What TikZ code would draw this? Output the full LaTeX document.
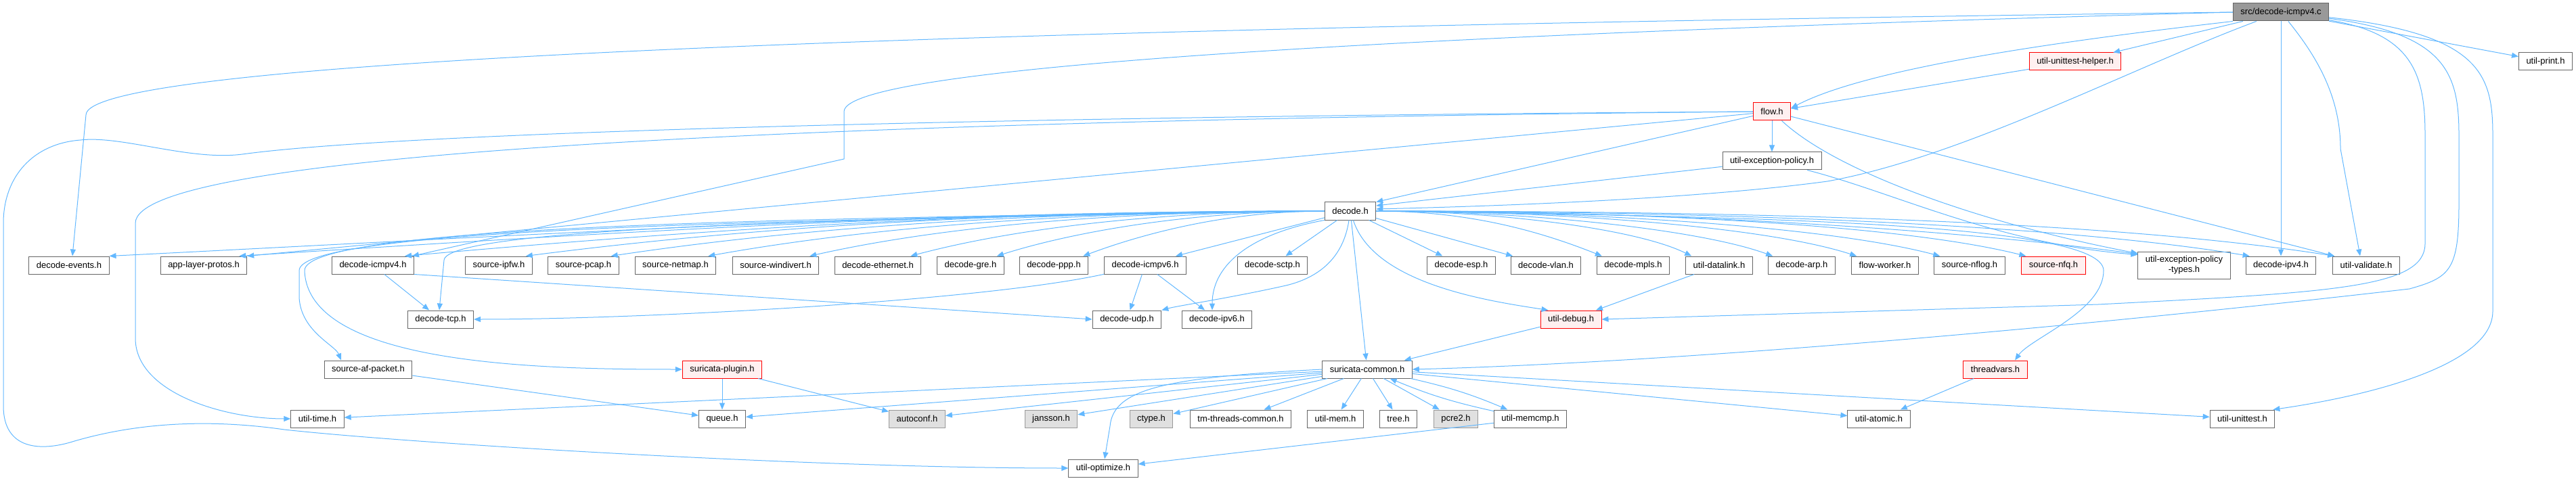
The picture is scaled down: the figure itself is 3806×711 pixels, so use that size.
\documentclass[tikz,border=0pt]{standalone}
\usepackage{fontspec}
\setmainfont{Liberation Sans}
\usetikzlibrary{arrows.meta}
\definecolor{edgeblue}{HTML}{63B8FF}
\definecolor{boxline}{HTML}{666666}
\definecolor{redfill}{HTML}{FFF0F0}
\definecolor{greyfill}{HTML}{E0E0E0}
\definecolor{greyline}{HTML}{999999}
\definecolor{srcfill}{HTML}{999999}

\begin{document}
\begin{tikzpicture}[x=1pt,y=1pt,
  hdr/.style={draw=boxline, fill=white, line width=1pt, rectangle, minimum height=26pt,
    inner xsep=11pt, inner ysep=2pt, font=\fontsize{13}{15}\selectfont},
  hdrred/.style={hdr, draw=red, fill=redfill},
  hdrgrey/.style={hdr, draw=greyline, fill=greyfill},
  hdrsrc/.style={hdr, fill=srcfill},
  incedge/.style={draw=edgeblue, line width=1pt, -{Triangle[length=10pt,width=8pt]}}]

\useasboundingbox (0,0) rectangle (3806,-711);

% The source file and the headers near the top
\node[hdrsrc] (src) at (3370,-18) {src/decode-icmpv4.c};
\node[hdrred] (uthelper) at (3066,-91) {util-unittest-helper.h};
\node[hdr] (uprint) at (3761,-91) {util-print.h};
\node[hdrred] (flow) at (2618,-165) {flow.h};
\node[hdr] (uexpol) at (2618,-238) {util-exception-policy.h};
\node[hdr] (decode) at (1995,-312) {decode.h};

% Headers included by decode.h
\node[hdr] (events) at (102,-392) {decode-events.h};
\node[hdr] (alproto) at (301,-392) {app-layer-protos.h};
\node[hdr] (icmpv4) at (551,-392) {decode-icmpv4.h};
\node[hdr] (ipfw) at (737,-392) {source-ipfw.h};
\node[hdr] (pcap) at (862,-392) {source-pcap.h};
\node[hdr] (netmap) at (998,-392) {source-netmap.h};
\node[hdr] (windivert) at (1146,-392) {source-windivert.h};
\node[hdr] (ethernet) at (1297,-392) {decode-ethernet.h};
\node[hdr] (gre) at (1434,-392) {decode-gre.h};
\node[hdr] (ppp) at (1557,-392) {decode-ppp.h};
\node[hdr] (icmpv6) at (1692,-392) {decode-icmpv6.h};
\node[hdr] (sctp) at (1880,-392) {decode-sctp.h};
\node[hdr] (esp) at (2159,-392) {decode-esp.h};
\node[hdr] (vlan) at (2284,-392) {decode-vlan.h};
\node[hdr] (mpls) at (2413,-392) {decode-mpls.h};
\node[hdr] (datalink) at (2540,-392) {util-datalink.h};
\node[hdr] (arp) at (2662,-392) {decode-arp.h};
\node[hdr] (flowworker) at (2785,-392) {flow-worker.h};
\node[hdr] (nflog) at (2910,-392) {source-nflog.h};
\node[hdrred] (nfq) at (3034,-392) {source-nfq.h};
\node[hdr, minimum height=40pt, align=center] (extypes) at (3227,-392) {util-exception-policy\\-types.h};
\node[hdr] (ipv4) at (3370,-392) {decode-ipv4.h};
\node[hdr] (validate) at (3496,-392) {util-validate.h};

% Lower rows
\node[hdr] (tcp) at (651,-472) {decode-tcp.h};
\node[hdr] (udp) at (1665,-472) {decode-udp.h};
\node[hdr] (ipv6) at (1798,-472) {decode-ipv6.h};
\node[hdrred] (debug) at (2321,-472) {util-debug.h};
\node[hdr] (afpacket) at (544,-546) {source-af-packet.h};
\node[hdrred] (plugin) at (1067,-546) {suricata-plugin.h};
\node[hdr] (common) at (2020,-546) {suricata-common.h};
\node[hdrred] (threadvars) at (2948,-546) {threadvars.h};
\node[hdr] (utime) at (469,-619) {util-time.h};
\node[hdr] (queue) at (1067,-619) {queue.h};
\node[hdrgrey] (autoconf) at (1355,-619) {autoconf.h};
\node[hdrgrey] (jansson) at (1553,-619) {jansson.h};
\node[hdrgrey] (ctype) at (1701,-619) {ctype.h};
\node[hdr] (tmthreads) at (1833,-619) {tm-threads-common.h};
\node[hdr] (umem) at (1973,-619) {util-mem.h};
\node[hdr] (tree) at (2066,-619) {tree.h};
\node[hdrgrey] (pcre) at (2151,-619) {pcre2.h};
\node[hdr] (memcmp) at (2261,-619) {util-memcmp.h};
\node[hdr] (atomic) at (2776,-619) {util-atomic.h};
\node[hdr] (unittest) at (3313,-619) {util-unittest.h};
\node[hdr] (optimize) at (1630,-692) {util-optimize.h};

% Includes of the source file
\draw[incedge] (src.west) .. controls (1200,-45) and (127,-95) .. (127,-170) -- ([xshift=5pt]events.north);
\draw[incedge] (src.west) .. controls (2300,-45) and (1247,-90) .. (1247,-165) -- (1247,-235) -- ([xshift=-3pt]icmpv4.north east);
\draw[incedge] (src) -- (uthelper);
\draw[incedge] (src) -- (uprint);
\draw[incedge] (src.south west) .. controls (3050,-60) and (2760,-100) .. ([yshift=5pt]flow.east);
\draw[incedge] (src) .. controls (3150,-100) and (2900,-232) .. (2700,-268)
  .. controls (2500,-295) and (2200,-305) .. ([yshift=3pt]decode.east);
\draw[incedge] (src) -- (ipv4);
\draw[incedge] (src) .. controls (3420,-80) and (3458,-140) .. (3458,-220) -- ([xshift=-9pt]validate.north);
\draw[incedge] (src) .. controls (3565,-50) and (3583,-110) .. (3583,-200) -- (3583,-360)
  .. controls (3583,-425) and (3450,-432) .. (3100,-450) -- (debug.east);
\draw[incedge] (src) .. controls (3615,-50) and (3633,-110) .. (3633,-200) -- (3633,-300)
  .. controls (3633,-400) and (3620,-410) .. (3560,-427)
  .. controls (3100,-480) and (2500,-535) .. (common.east);
\draw[incedge] (src) .. controls (3665,-50) and (3683,-110) .. (3683,-200) -- (3683,-460)
  .. controls (3683,-540) and (3500,-585) .. ([xshift=-3pt]unittest.north east);

% Includes of flow.h
\draw[incedge] (uthelper) -- (flow);
\draw[incedge] (flow) -- (uexpol);
\draw[incedge] (flow) -- (decode.north east);
\draw[incedge] (flow) -- (alproto.north east);
\draw[incedge] (flow) .. controls (2720,-260) and (2950,-335) .. ([yshift=-3pt]extypes.north west);
\draw[incedge] (flow) -- ([xshift=3pt]validate.north west);
\draw[incedge] (flow.west) .. controls (1200,-178) and (200,-225) .. (200,-330) -- (200,-500)
  .. controls (200,-580) and (330,-619) .. (utime.west);
\draw[incedge] (flow.west) .. controls (1500,-172) and (600,-195) .. (358,-228)
  .. controls (280,-238) and (180,-200) .. (119,-207)
  .. controls (50,-212) and (5,-260) .. (5,-330) -- (5,-600)
  .. controls (5,-665) and (60,-668) .. (110,-652)
  .. controls (220,-620) and (330,-622) .. (420,-635)
  .. controls (600,-655) and (1200,-692) .. (optimize.west);

% Includes of util-exception-policy.h
\draw[incedge] (uexpol) -- ([yshift=8pt]decode.east);
\draw[incedge] (uexpol) .. controls (2800,-285) and (2950,-360) .. ([yshift=-5pt]extypes.north west);

% Includes of decode.h, left side
\draw[incedge] (decode.west) .. controls +(-600,0) and +(600,30) .. (events.north east);
\draw[incedge] (decode.west) .. controls +(-550,0) and +(550,35) .. ([xshift=-12pt]alproto.north east);
\draw[incedge] (decode.west) .. controls +(-500,0) and +(450,40) .. ([xshift=-14pt]icmpv4.north east);
\draw[incedge] (decode.west) .. controls +(-450,0) and +(350,45) .. ([xshift=-10pt]ipfw.north east);
\draw[incedge] (decode.west) .. controls +(-400,0) and +(300,45) .. ([xshift=-12pt]pcap.north east);
\draw[incedge] (decode.west) .. controls +(-350,0) and +(250,45) .. ([xshift=-12pt]netmap.north east);
\draw[incedge] (decode.west) .. controls +(-300,0) and +(200,45) .. ([xshift=-14pt]windivert.north east);
\draw[incedge] (decode.west) .. controls +(-250,0) and +(150,40) .. ([xshift=-16pt]ethernet.north east);
\draw[incedge] (decode.west) .. controls +(-200,0) and +(110,35) .. ([xshift=-11pt]gre.north east);
\draw[incedge] (decode.west) .. controls +(-150,0) and +(80,30) .. ([xshift=-8pt]ppp.north east);
\draw[incedge] (decode) -- ([xshift=-16pt]icmpv6.north east);
\draw[incedge] (decode) -- (sctp);
\draw[incedge] (decode.west) .. controls (1300,-322) and (656,-335) .. (656,-385) -- ([xshift=-2pt]tcp.north);
\draw[incedge] (decode.west) .. controls (1200,-325) and (442,-335) .. (442,-400) -- (442,-440)
  .. controls (445,-490) and (495,-510) .. ([xshift=-40pt]afpacket.north);
\draw[incedge] (decode.west) .. controls (1200,-322) and (450,-332) .. (450,-400)
  .. controls (455,-540) and (800,-546) .. (plugin.west);

% Includes of decode.h, below it
\draw[incedge] (decode.south west) .. controls (1850,-345) and (1791,-390) .. ([xshift=-7pt]ipv6.north);
\draw[incedge] (decode) .. controls (1985,-380) and (1950,-410) .. (1900,-422)
  .. controls (1820,-440) and (1740,-452) .. (udp.north east);
\draw[incedge] (decode) -- (common);
\draw[incedge] (decode) .. controls (2030,-420) and (2200,-445) .. ([xshift=12pt]debug.north west);
\draw[incedge] (decode.east) .. controls (2600,-320) and (3108,-330) .. (3108,-400)
  .. controls (3108,-460) and (3000,-500) .. ([xshift=29pt]threadvars.north);

% Includes of decode.h, right side
\draw[incedge] (decode) -- (esp);
\draw[incedge] (decode) -- (vlan);
\draw[incedge] (decode.east) .. controls +(130,0) and +(-100,40) .. ([xshift=8pt]mpls.north west);
\draw[incedge] (decode.east) .. controls +(180,0) and +(-80,40) .. ([xshift=9pt]datalink.north west);
\draw[incedge] (decode.east) .. controls +(220,0) and +(-110,40) .. ([xshift=7pt]arp.north west);
\draw[incedge] (decode.east) .. controls +(260,0) and +(-140,45) .. ([xshift=8pt]flowworker.north west);
\draw[incedge] (decode.east) .. controls +(300,0) and +(-170,45) .. ([xshift=9pt]nflog.north west);
\draw[incedge] (decode.east) .. controls +(340,0) and +(-200,50) .. ([xshift=7pt]nfq.north west);
\draw[incedge] (decode.east) .. controls +(400,0) and +(-300,40) .. ([yshift=-4pt]extypes.north west);
\draw[incedge] (decode.east) .. controls +(450,0) and +(-300,50) .. ([xshift=6pt]ipv4.north west);
\draw[incedge] (decode.east) .. controls +(500,0) and +(-350,55) .. ([xshift=3pt]validate.north west);

% Second level includes
\draw[incedge] (icmpv4) -- (tcp);
\draw[incedge] (icmpv4.south east) -- (udp.west);
\draw[incedge] (icmpv6) .. controls (1450,-445) and (950,-472) .. (tcp.east);
\draw[incedge] (icmpv6) -- (udp);
\draw[incedge] (icmpv6) -- (ipv6);
\draw[incedge] (datalink) -- (debug);
\draw[incedge] (debug) -- (common);
\draw[incedge] (afpacket) -- (queue);
\draw[incedge] (plugin) -- (queue);
\draw[incedge] (plugin) -- (autoconf);
\draw[incedge] (threadvars) -- (atomic);
\draw[incedge] (memcmp) -- (optimize);

% Includes of suricata-common.h
\draw[incedge] (common) -- (utime);
\draw[incedge] (common) -- (queue);
\draw[incedge] (common) -- (autoconf);
\draw[incedge] (common) -- (jansson);
\draw[incedge] (common) -- (ctype);
\draw[incedge] (common) -- (tmthreads);
\draw[incedge] (common) -- (umem);
\draw[incedge] (common) -- (tree);
\draw[incedge] (common) -- (pcre);
\draw[incedge] (common) to[bend left=5] (memcmp);
\draw[incedge] (memcmp) to[bend left=5] (common);
\draw[incedge] (common) -- (atomic);
\draw[incedge] (common) -- (unittest);
\draw[incedge] (common.west) .. controls (1720,-558) and (1645,-575) .. (1640,-630) -- ([xshift=2pt]optimize.north);
\end{tikzpicture}
\end{document}
